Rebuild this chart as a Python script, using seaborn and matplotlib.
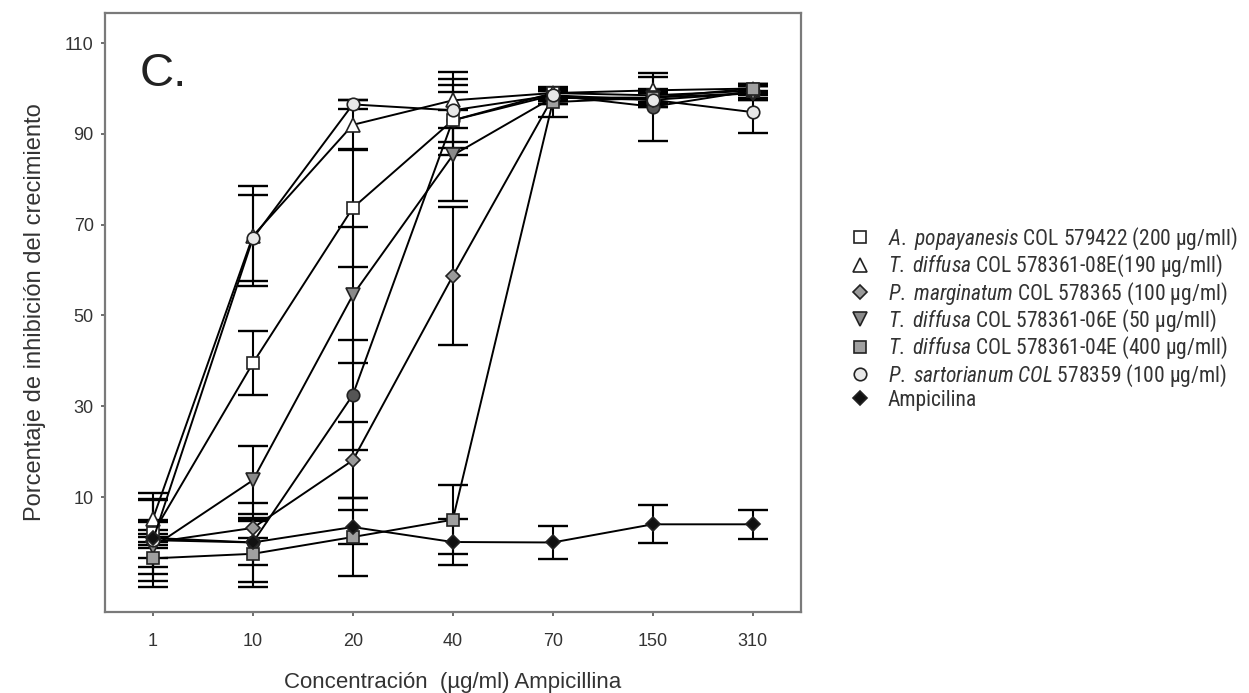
import numpy as np
import pandas as pd
import matplotlib
matplotlib.use("Agg")
import matplotlib.pyplot as plt
from matplotlib import font_manager
from matplotlib.lines import Line2D
import seaborn as sns

# ---------------- data ----------------
concentrations = ["1", "10", "20", "40", "70", "150", "310"]

a_popayanesis = [2.0, 39.5, 73.7, 93.0, 99.0, 98.5, 99.5]
a_popayanesis_err = [7.3, 7.0, 13.0, 7.7, 1.2, 1.5, 1.5]

t_diffusa_08e = [5.2, 67.5, 92.0, 97.4, 99.0, 99.6, 100.0]
t_diffusa_08e_err = [5.7, 11.0, 5.5, 6.2, 1.2, 3.0, 1.0]

p_marginatum = [0.0, 3.2, 18.1, 58.7, 98.0, 97.5, 99.0]
p_marginatum_err = [1.2, 2.2, 8.4, 15.2, 1.5, 1.5, 1.5]

t_diffusa_06e = [-1.0, 13.7, 54.5, 85.3, 98.0, 98.0, 99.0]
t_diffusa_06e_err = [6.0, 7.5, 15.0, 10.0, 1.5, 1.5, 1.5]

t_diffusa_04e = [-3.5, -2.5, 1.2, 5.0, 97.0, 98.0, 100.0]
t_diffusa_04e_err = [6.3, 7.3, 8.5, 7.6, 3.3, 1.5, 1.0]

p_sartorianum = [0.5, 67.0, 96.5, 95.2, 98.5, 97.5, 94.8]
p_sartorianum_err = [4.0, 9.5, 1.0, 7.0, 1.2, 1.5, 4.6]

ampicilina = [1.0, 0.0, 3.4, 0.1, 0.0, 4.0, 4.0]
ampicilina_err = [0.8, 4.9, 3.7, 5.0, 3.6, 4.2, 3.2]

# extra trace visible in the figure without a legend entry
extra_trace = [0.5, 0.0, 32.5, 93.0, 98.5, 96.0, 99.5]
extra_trace_err = [9.0, 8.7, 12.2, 6.2, 1.2, 7.5, 1.0]

legend_labels = [
    r"$\mathit{A.}$ $\mathit{popayanesis}$ COL 579422 (200 µg/mll)",
    r"$\mathit{T.}$ $\mathit{diffusa}$ COL 578361-08E(190 µg/mll)",
    r"$\mathit{P.}$ $\mathit{marginatum}$ COL 578365 (100 µg/ml)",
    r"$\mathit{T.}$ $\mathit{diffusa}$ COL 578361-06E (50 µg/mll)",
    r"$\mathit{T.}$ $\mathit{diffusa}$ COL 578361-04E (400 µg/mll)",
    r"$\mathit{P.}$ $\mathit{sartorianum}$ $\mathit{COL}$ $\mathit{578359}$ (100 µg/ml)",
    "Ampicilina",
]
y_ticks = [10, 30, 50, 70, 90, 110]

# ---------------- style ----------------
sns.set_theme(style="white")
available = {f.name for f in font_manager.fontManager.ttflist}
base_font = "Liberation Sans" if "Liberation Sans" in available else "DejaVu Sans"
narrow_font = base_font
for cand in ["Liberation Sans Narrow", "Arial Narrow", "Roboto Condensed"]:
    if cand in available:
        narrow_font = cand
        break
plt.rcParams["font.family"] = [base_font, "DejaVu Sans"]
plt.rcParams["mathtext.fontset"] = "custom"
plt.rcParams["mathtext.rm"] = narrow_font
plt.rcParams["mathtext.it"] = narrow_font + ":italic"
leg_size = 15.5 if narrow_font != base_font else 13.3

series = [
    (a_popayanesis, a_popayanesis_err, "s", "white", 8.5),
    (t_diffusa_08e, t_diffusa_08e_err, "^", "white", 9.5),
    (p_marginatum, p_marginatum_err, "D", "#9a9a9a", 7.0),
    (t_diffusa_06e, t_diffusa_06e_err, "v", "#8a8a8a", 9.5),
    (t_diffusa_04e, t_diffusa_04e_err, "s", "#a0a0a0", 8.0),
    (p_sartorianum, p_sartorianum_err, "o", "#e8e8e8", 9.0),
    (ampicilina, ampicilina_err, "D", "#111111", 7.5),
]
extra = (extra_trace, extra_trace_err, "o", "#555555", 9.0)

fig = plt.figure(figsize=(12.49, 6.93), dpi=100)
ax = fig.add_axes([0.084, 0.117, 0.557, 0.864])

pos = np.arange(len(concentrations))
for vals, errs, mk, fc, ms in series + [extra]:
    ax.errorbar(pos, vals, yerr=errs, fmt="none", ecolor="black",
                elinewidth=1.5, capsize=11, capthick=1.7, zorder=2)
for vals, errs, mk, fc, ms in [extra] + series:
    df = pd.DataFrame({"x": pos, "y": vals})
    sns.lineplot(data=df, x="x", y="y", ax=ax, color="black", linewidth=1.4,
                 marker=mk, markersize=ms, markerfacecolor=fc,
                 markeredgecolor="#222222", markeredgewidth=1.2,
                 errorbar=None, legend=False, zorder=3)

ax.set_xlim(-0.48, 6.48)
ax.set_ylim(-15.3, 116.6)
ax.set_xticks(pos)
ax.set_xticklabels(concentrations, fontsize=13)
ax.set_yticks(y_ticks)
ax.set_yticklabels([str(t) for t in y_ticks], fontsize=13)
ax.tick_params(axis="both", direction="out", length=3, width=1.2,
               color="#555555", labelcolor="#333333",
               bottom=True, left=True)
ax.tick_params(axis="x", pad=12)
ax.tick_params(axis="y", pad=5)
for sp in ax.spines.values():
    sp.set_color("#7a7a7a")
    sp.set_linewidth(1.6)
ax.set_xlabel("Concentración  (µg/ml) Ampicillina", fontsize=16,
              color="#333333", labelpad=16)
ax.set_ylabel("Porcentaje de inhibición del crecimiento", fontsize=17,
              color="#333333", labelpad=14)
ax.text(0.05, 0.935, "C.", transform=ax.transAxes, fontsize=34,
        va="top", ha="left", color="#222222")

handles = [Line2D([], [], linestyle="none", marker=mk, markersize=ms,
                  markerfacecolor=fc, markeredgecolor="#222222",
                  markeredgewidth=1.2)
           for vals, errs, mk, fc, ms in series]
leg = fig.legend(handles, legend_labels, loc="upper left",
                 bbox_to_anchor=(0.678, 0.674), frameon=False,
                 prop={"family": [narrow_font, "DejaVu Sans"], "size": leg_size},
                 handlelength=1.2, handletextpad=0.7, labelspacing=0.05,
                 borderpad=0, borderaxespad=0)
for t in leg.get_texts():
    t.set_color("#333333")

fig.savefig("out.png", dpi=100)
